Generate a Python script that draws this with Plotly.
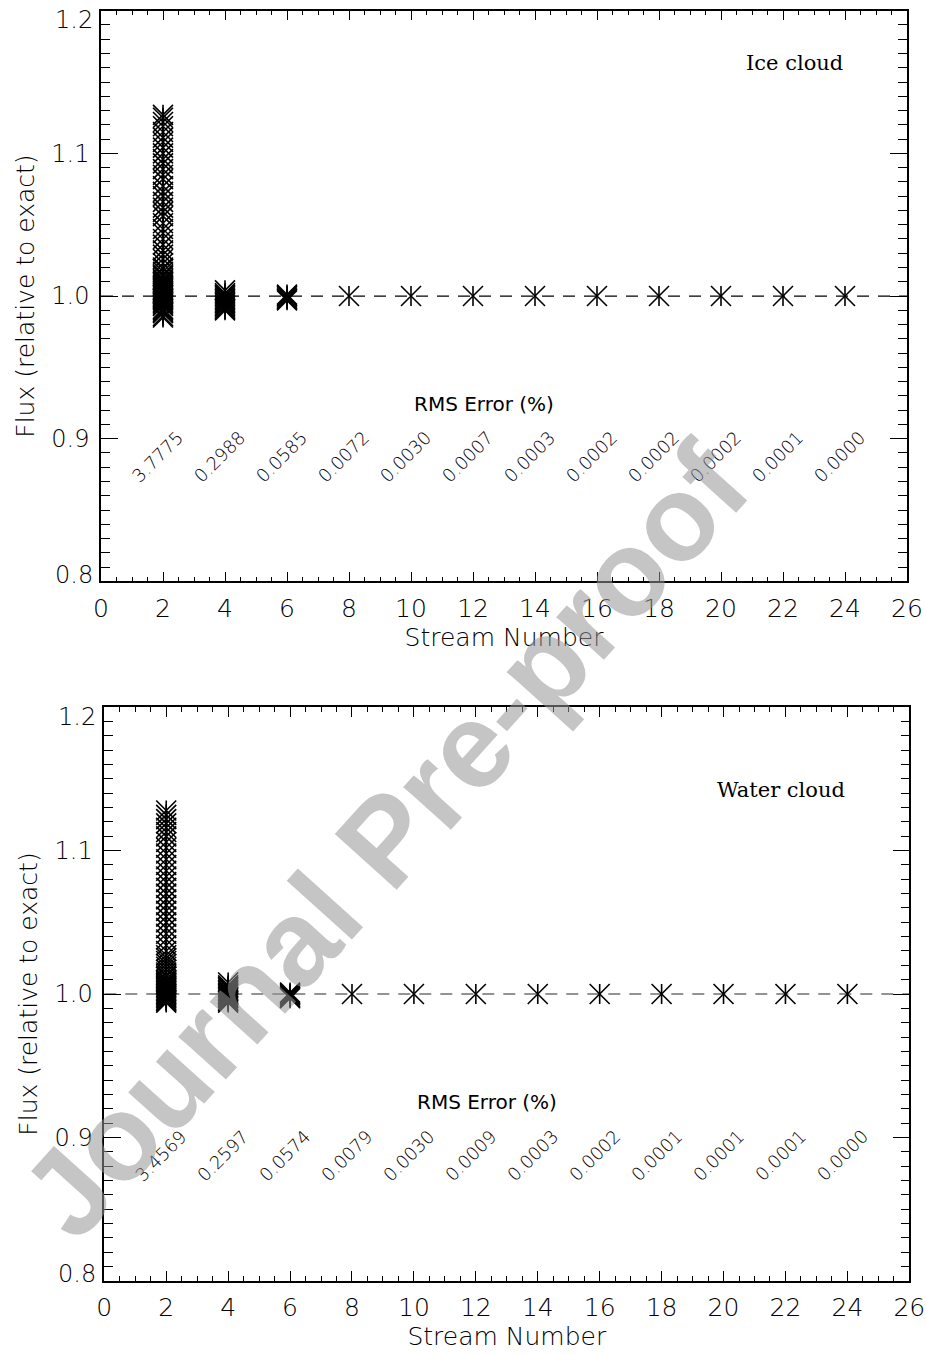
import plotly.graph_objects as go

# ---------------- data ----------------
streams = [2, 4, 6, 8, 10, 12, 14, 16, 18, 20, 22, 24]

ice_s2 = [0.985, 0.986, 0.988, 0.989, 0.990, 0.991, 0.993, 0.994, 0.995, 0.996, 0.997,
          0.998, 0.999, 1.000, 1.001, 1.002, 1.003, 1.004, 1.005, 1.006, 1.007, 1.008,
          1.009, 1.010, 1.011, 1.012, 1.014, 1.015, 1.017, 1.019, 1.020, 1.023, 1.026,
          1.029, 1.032, 1.036, 1.040, 1.044, 1.047, 1.051, 1.056, 1.059, 1.062, 1.066,
          1.070, 1.073, 1.077, 1.082, 1.085, 1.089, 1.093, 1.096, 1.100, 1.104, 1.108,
          1.111, 1.115, 1.119, 1.122, 1.125, 1.127]
ice_s4 = [0.990, 0.991, 0.992, 0.993, 0.994, 0.995, 0.996, 0.997, 0.998, 0.999,
          1.000, 1.001, 1.002, 1.004]
ice_s6 = [0.997, 0.998, 0.999, 1.000, 1.001]
ice_rest = [1.000, 1.000, 1.000, 1.000, 1.000, 1.000, 1.000, 1.000, 1.000]

water_s2 = [0.994, 0.995, 0.996, 0.997, 0.998, 0.999, 1.000, 1.001, 1.002, 1.003,
            1.004, 1.005, 1.006, 1.007, 1.008, 1.009, 1.010, 1.012, 1.013, 1.015,
            1.017, 1.019, 1.021, 1.023, 1.025, 1.027, 1.030, 1.034, 1.038, 1.042,
            1.046, 1.050, 1.054, 1.058, 1.062, 1.066, 1.070, 1.074, 1.078, 1.082,
            1.086, 1.090, 1.094, 1.098, 1.102, 1.106, 1.110, 1.113, 1.116, 1.119,
            1.122, 1.125, 1.128]
water_s4 = [0.994, 0.995, 0.996, 0.997, 0.998, 0.999, 1.000, 1.001, 1.002, 1.003,
            1.004, 1.005, 1.006, 1.008]
water_s6 = [0.997, 0.998, 0.999, 1.000, 1.001]
water_rest = [1.000, 1.000, 1.000, 1.000, 1.000, 1.000, 1.000, 1.000, 1.000]

rms_ice = ["3.7775", "0.2988", "0.0585", "0.0072", "0.0030", "0.0007",
           "0.0003", "0.0002", "0.0002", "0.0002", "0.0001", "0.0000"]
rms_water = ["3.4569", "0.2597", "0.0574", "0.0079", "0.0030", "0.0009",
             "0.0003", "0.0002", "0.0001", "0.0001", "0.0001", "0.0000"]

panel_labels = ["Ice cloud", "Water cloud"]
x_title = "Stream Number"
y_title = "Flux (relative to exact)"
rms_title = "RMS Error (%)"
watermark = "Journal Pre-proof"

x_ticks = [0, 2, 4, 6, 8, 10, 12, 14, 16, 18, 20, 22, 24, 26]
y_ticks = [0.8, 0.9, 1.0, 1.1, 1.2]
# end labels (0.8, 1.2) are drawn nudged inward, as in the reference
y_ticktext = ["", "0.9", "1.0", "1.1", ""]
y_end_labels = [(0.8, "0.8", 0.8047), (1.2, "1.2", 1.1935)]

# ---------------- figure ----------------
W, H = 926, 1354
fig = go.Figure()

def build_xy(s2, s4, s6, rest):
    xs = [2] * len(s2) + [4] * len(s4) + [6] * len(s6) + streams[3:]
    ys = s2 + s4 + s6 + rest
    return xs, ys

panels = [
    ("x", "y", build_xy(ice_s2, ice_s4, ice_s6, ice_rest), "black", rms_ice),
    ("x2", "y2", build_xy(water_s2, water_s4, water_s6, water_rest), "#707070", rms_water),
]

for xa, ya, (xs, ys), dash_col, rms in panels:
    fig.add_trace(go.Scatter(x=[0, 26], y=[1.0, 1.0], mode="lines", xaxis=xa, yaxis=ya,
                             line=dict(color=dash_col, width=1.3, dash="12px,9px"),
                             showlegend=False, hoverinfo="skip"))
    fig.add_trace(go.Scatter(x=xs, y=ys, mode="markers", xaxis=xa, yaxis=ya,
                             marker=dict(symbol="x-thin-open", size=20, color="black",
                                         line=dict(color="black", width=1.6)),
                             showlegend=False))
    fig.add_trace(go.Scatter(x=xs, y=ys, mode="markers", xaxis=xa, yaxis=ya,
                             marker=dict(symbol="line-ns-open", size=14.3, color="black",
                                         line=dict(color="black", width=1.6)),
                             showlegend=False))

xtick_font = dict(family="DejaVu Sans", size=25, color="black", weight=200)
ytick_font = dict(family="DejaVu Sans", size=24, color="black", weight=200)
title_font = dict(family="DejaVu Sans", size=25, color="black", weight=200)

def xaxis_cfg(dom, anchor):
    return dict(domain=dom, anchor=anchor, range=[0, 26], tickmode="array",
                tickvals=x_ticks, ticks="inside", ticklen=10, tickwidth=1,
                tickcolor="black", showline=True, linecolor="black", linewidth=1.5,
                mirror="allticks", showgrid=False, zeroline=False, automargin=False,
                tickfont=xtick_font, ticklabelstandoff=4, ticklabeloverflow="allow",
                minor=dict(dtick=0.5, ticklen=5, tickwidth=1, tickcolor="black",
                           ticks="inside", showgrid=False),
                title=dict(text=x_title, font=title_font, standoff=6))

def yaxis_cfg(dom, anchor):
    return dict(domain=dom, anchor=anchor, range=[0.8, 1.2], tickmode="array",
                tickvals=y_ticks, ticktext=y_ticktext, ticks="inside", ticklen=17,
                tickwidth=1, tickcolor="black", showline=True, linecolor="black",
                linewidth=1.5, mirror="allticks", showgrid=False, zeroline=False,
                automargin=False, tickfont=ytick_font, ticklabelstandoff=5,
                ticklabeloverflow="allow",
                minor=dict(dtick=0.01, ticklen=9, tickwidth=1, tickcolor="black",
                           ticks="inside", showgrid=False),
                title=dict(text=y_title, font=title_font, standoff=10))

xd_top = [101 / W, 907 / W]
xd_bot = [104.3 / W, 909.3 / W]
yd_top = [1 - 581.4 / H, 1 - 10.7 / H]
yd_bot = [1 - 1280.7 / H, 1 - 707.3 / H]

fig.update_layout(
    width=W, height=H, margin=dict(l=0, r=0, t=0, b=0, autoexpand=False),
    paper_bgcolor="white", plot_bgcolor="white",
    xaxis=xaxis_cfg(xd_top, "y"), yaxis=yaxis_cfg(yd_top, "x"),
    xaxis2=xaxis_cfg(xd_bot, "y2"), yaxis2=yaxis_cfg(yd_bot, "x2"),
)

ann = []
rms_font = dict(family="DejaVu Sans", size=18, color="black", weight=200)
for (xa, ya, _, _, rms), label in zip(panels, panel_labels):
    for s, t in zip(streams, rms):
        ann.append(dict(x=s - 0.17, y=0.8875, xref=xa, yref=ya, text=t, showarrow=False,
                        textangle=-45, xanchor="center", yanchor="middle",
                        font=rms_font))
    for _, txt, ypos in y_end_labels:
        ann.append(dict(x=0, y=ypos, xref=xa, yref=ya, text=txt, showarrow=False,
                        xanchor="right", yanchor="middle", xshift=-6,
                        font=ytick_font))
    ann.append(dict(x=12.35, y=0.9245, xref=xa, yref=ya, text=rms_title, showarrow=False,
                    xanchor="center", yanchor="middle",
                    font=dict(family="DejaVu Sans", size=20, color="black")))
    ann.append(dict(x=24.0, y=1.163 if xa == "x" else 1.1424, xref=xa, yref=ya, text=label,
                    showarrow=False, xanchor="right", yanchor="middle",
                    font=dict(family="DejaVu Serif", size=21, color="black")))

ann.append(dict(x=385 / W, y=1 - 840 / H, xref="paper", yref="paper", text=watermark,
                showarrow=False, textangle=-48, xanchor="center", yanchor="middle",
                font=dict(family="Liberation Sans, Arial", size=121, weight="bold",
                          color="rgba(150,150,150,0.55)")))

fig.update_layout(annotations=ann)
fig.write_html("out.html")
